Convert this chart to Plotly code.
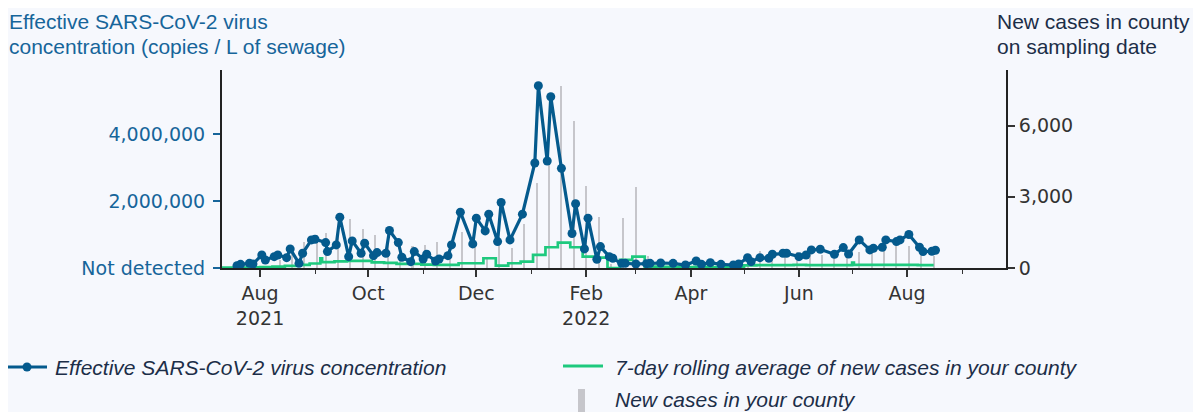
import plotly.graph_objects as go

# ---------------- data ----------------
virus_dates = [
    "2021-07-19", "2021-07-21", "2021-07-26", "2021-07-28", "2021-08-02", "2021-08-04",
    "2021-08-09", "2021-08-11", "2021-08-16", "2021-08-18", "2021-08-23", "2021-08-25",
    "2021-08-30", "2021-09-01", "2021-09-07", "2021-09-08", "2021-09-13", "2021-09-15",
    "2021-09-20", "2021-09-22", "2021-09-27", "2021-09-29", "2021-10-04", "2021-10-06",
    "2021-10-11", "2021-10-13", "2021-10-18", "2021-10-20", "2021-10-25", "2021-10-27",
    "2021-11-01", "2021-11-03", "2021-11-08", "2021-11-10", "2021-11-15", "2021-11-17",
    "2021-11-22", "2021-11-29", "2021-12-01", "2021-12-06", "2021-12-08", "2021-12-13",
    "2021-12-15", "2021-12-20", "2021-12-27", "2022-01-03", "2022-01-05", "2022-01-10",
    "2022-01-12", "2022-01-18", "2022-01-24", "2022-01-26", "2022-01-31", "2022-02-02",
    "2022-02-07", "2022-02-09", "2022-02-14", "2022-02-16", "2022-02-21", "2022-02-23",
    "2022-03-01", "2022-03-07", "2022-03-09", "2022-03-15", "2022-03-22", "2022-03-29",
    "2022-04-04", "2022-04-07", "2022-04-12", "2022-04-18", "2022-04-25", "2022-04-28",
    "2022-05-03", "2022-05-05", "2022-05-10", "2022-05-15", "2022-05-17", "2022-05-23",
    "2022-05-25", "2022-06-01", "2022-06-05", "2022-06-08", "2022-06-13", "2022-06-21",
    "2022-06-26", "2022-06-29", "2022-07-05", "2022-07-11", "2022-07-13", "2022-07-18",
    "2022-07-20", "2022-07-26", "2022-07-28", "2022-08-02", "2022-08-08", "2022-08-10",
    "2022-08-15", "2022-08-17",
]
virus_values = [
    70000, 110000, 140000, 120000, 390000, 240000,
    340000, 390000, 310000, 570000, 140000, 440000,
    840000, 860000, 760000, 490000, 690000, 1520000,
    340000, 810000, 440000, 740000, 370000, 460000,
    440000, 1120000, 760000, 320000, 190000, 490000,
    270000, 410000, 210000, 270000, 370000, 690000,
    1670000, 720000, 1490000, 1110000, 1610000, 790000,
    1960000, 840000, 1610000, 3140000, 5450000, 3200000,
    5120000, 2980000, 1030000, 1920000, 570000, 1490000,
    260000, 640000, 340000, 290000, 140000, 140000,
    120000, 130000, 140000, 150000, 140000, 90000,
    210000, 110000, 160000, 110000, 90000, 120000,
    310000, 190000, 310000, 290000, 410000, 440000,
    440000, 340000, 390000, 540000, 560000, 410000,
    610000, 420000, 840000, 540000, 590000, 620000,
    840000, 790000, 840000, 1000000, 620000, 490000,
    500000, 530000,
]

case_dates = [
    "2021-08-12", "2021-08-19", "2021-08-26", "2021-09-02", "2021-09-07", "2021-09-14",
    "2021-09-21", "2021-09-28", "2021-10-05", "2021-10-12", "2021-10-19", "2021-10-26",
    "2021-11-02", "2021-11-09", "2021-11-16", "2021-11-23", "2021-11-30", "2021-12-07",
    "2021-12-14", "2021-12-21", "2021-12-28", "2022-01-04", "2022-01-11", "2022-01-18",
    "2022-01-25", "2022-02-01", "2022-02-08", "2022-02-15", "2022-02-22", "2022-03-01",
    "2022-03-08", "2022-03-15", "2022-03-22", "2022-03-29", "2022-04-05", "2022-04-12",
    "2022-04-19", "2022-04-26", "2022-05-03", "2022-05-10", "2022-05-17", "2022-05-24",
    "2022-05-31", "2022-06-07", "2022-06-14", "2022-06-21", "2022-06-28", "2022-07-05",
    "2022-07-12", "2022-07-19", "2022-07-26", "2022-08-02", "2022-08-09", "2022-08-16",
]
case_values = [
    340, 620, 1110, 1400, 1480, 1700,
    2050, 1630, 1390, 1300, 1040, 930,
    970, 1110, 1110, 1530, 1110, 480,
    970, 850, 1860, 3580, 4400, 7660,
    6180, 3460, 2170, 150, 2100, 3410,
    510, 200, 150, 200, 200, 150,
    200, 250, 450, 720, 550, 550,
    690, 600, 550, 500, 620, 690,
    700, 900, 970, 930, 530, 520,
]

avg_dates = [
    "2021-07-10", "2021-07-18", "2021-07-25", "2021-08-01", "2021-08-08", "2021-08-15",
    "2021-08-22", "2021-08-29", "2021-09-04", "2021-09-05", "2021-09-12", "2021-09-19",
    "2021-09-26", "2021-10-03", "2021-10-10", "2021-10-17", "2021-10-24", "2021-10-31",
    "2021-11-07", "2021-11-14", "2021-11-21", "2021-11-28", "2021-12-05", "2021-12-12",
    "2021-12-19", "2021-12-26", "2022-01-02", "2022-01-09", "2022-01-16", "2022-01-23",
    "2022-01-30", "2022-02-06", "2022-02-13", "2022-02-20", "2022-02-27", "2022-03-06",
    "2022-03-13", "2022-03-20", "2022-03-27", "2022-04-03", "2022-04-10", "2022-04-17",
    "2022-04-24", "2022-05-01", "2022-05-08", "2022-05-15", "2022-05-22", "2022-05-29",
    "2022-06-05", "2022-06-12", "2022-06-19", "2022-06-26", "2022-07-01", "2022-07-02",
    "2022-07-10", "2022-07-17", "2022-07-24", "2022-07-31", "2022-08-07", "2022-08-16",
]
avg_values = [
    20, 20, 30, 40, 60, 90,
    130, 190, 410, 250, 280, 300,
    300, 240, 220, 170, 170, 140,
    130, 130, 200, 200, 410, 100,
    200, 270, 550, 875, 1070, 875,
    480, 435, 0, 340, 480, 60,
    50, 50, 40, 50, 40, 40,
    50, 110, 120, 120, 120, 130,
    120, 120, 120, 120, 230, 130,
    130, 130, 130, 130, 120, 120,
]

x_major_ticks = ["2021-08-01", "2021-10-01", "2021-12-01", "2022-02-01",
                 "2022-04-01", "2022-06-01", "2022-08-01"]
x_major_labels = ["Aug<br>2021", "Oct", "Dec", "Feb<br>2022", "Apr", "Jun", "Aug"]
x_minor_ticks = ["2021-09-01", "2021-11-01", "2022-01-01", "2022-03-01",
                 "2022-05-01", "2022-07-01", "2022-09-01"]
virus_ticks = [0, 2000000, 4000000]
virus_tick_labels = ["Not detected", "2,000,000", "4,000,000"]
case_ticks = [0, 3000, 6000]
case_tick_labels = ["0", "3,000", "6,000"]

# ---------------- style ----------------
BG = "#f6f8fd"
BLUE = "#045a8d"
BLUE_TXT = "#16659a"
GREEN = "#1ec97e"
GRAY = "#c6c6cb"
NAVY = "#1c2e48"
DARK = "#333333"
AXIS = "#222222"
TICKFONT = "DejaVu Sans"
TXTFONT = "Liberation Sans, Arial, sans-serif"

# the page body adds an 8px offset, so the figure is 8px smaller than the window
OFF = 8
W, H = 1201 - OFF, 412 - OFF
# plot area in window pixels
L, R, T, B = 222, 1006, 70, 268


def px(xp):
    return (xp - L) / (R - L)


def py(yp):
    return (B - yp) / (B - T)


fig = go.Figure()
fig.add_trace(go.Bar(
    x=case_dates, y=case_values, yaxis="y",
    width=1.15 * 86400000, marker=dict(color=GRAY, line=dict(width=0)),
    name="New cases in your county", showlegend=False,
))
fig.add_trace(go.Scatter(
    x=avg_dates, y=avg_values, yaxis="y", mode="lines",
    line=dict(color=GREEN, width=2.7, shape="hv"),
    name="7-day rolling average of new cases in your county", showlegend=False,
))
fig.add_trace(go.Scatter(
    x=virus_dates, y=virus_values, yaxis="y2", mode="lines+markers",
    line=dict(color=BLUE, width=3.2), marker=dict(size=9, color=BLUE),
    name="Effective SARS-CoV-2 virus concentration", showlegend=False,
))

annotations = []
shapes = []


def text(xp, yp, s, color, italic=False, size=21):
    annotations.append(dict(
        x=px(xp), y=py(yp), xref="paper", yref="paper", text=s, showarrow=False,
        xanchor="left", yanchor="middle",
        font=dict(family=TXTFONT, size=size, color=color,
                  style="italic" if italic else "normal"),
    ))


# axis titles
text(7, 21, "Effective SARS-CoV-2 virus", BLUE_TXT)
text(7, 46, "concentration (copies / L of sewage)", BLUE_TXT)
text(995, 21, "New cases in county", NAVY)
text(995, 46, "on sampling date", NAVY)

# manual legend
shapes.append(dict(type="line", xref="paper", yref="paper",
                   x0=px(7), x1=px(47), y0=py(367), y1=py(367),
                   line=dict(color=BLUE, width=3)))
shapes.append(dict(type="circle", xref="paper", yref="paper",
                   x0=px(22.5), x1=px(31.5), y0=py(371.5), y1=py(362.5),
                   fillcolor=BLUE, line=dict(color=BLUE, width=0)))
text(53, 367, "Effective SARS-CoV-2 virus concentration", NAVY, italic=True)
shapes.append(dict(type="line", xref="paper", yref="paper",
                   x0=px(563), x1=px(603), y0=py(366), y1=py(366),
                   line=dict(color=GREEN, width=3)))
text(613, 367, "7-day rolling average of new cases in your county", NAVY, italic=True)
shapes.append(dict(type="rect", xref="paper", yref="paper",
                   x0=px(578), x1=px(585), y0=py(389), y1=py(412),
                   fillcolor=GRAY, line=dict(width=0)))
text(613, 400, "New cases in your county", NAVY, italic=True)

fig.update_layout(
    width=W, height=H,
    margin=dict(l=L - OFF, r=W - (R - OFF), t=T - OFF, b=H - (B - OFF), pad=0),
    paper_bgcolor=BG, plot_bgcolor=BG,
    showlegend=False,
    bargap=0,
    annotations=annotations,
    shapes=shapes,
    xaxis=dict(
        type="date",
        range=["2021-07-10 13:00", "2022-09-25 19:00"],
        showgrid=False, zeroline=False,
        showline=True, linecolor=AXIS, linewidth=2,
        ticks="outside", ticklen=7, tickwidth=1.6, tickcolor=DARK,
        tickmode="array", tickvals=x_major_ticks, ticktext=x_major_labels,
        tickfont=dict(family=TICKFONT, size=19, color=DARK),
        minor=dict(tickmode="array", tickvals=x_minor_ticks, ticks="outside",
                   ticklen=4, tickwidth=1.3, tickcolor=DARK, showgrid=False),
    ),
    yaxis=dict(
        side="right", range=[0, 8343],
        showgrid=False, zeroline=False,
        showline=True, linecolor=AXIS, linewidth=2,
        ticks="outside", ticklen=7, tickwidth=1.6, tickcolor=DARK,
        tickmode="array", tickvals=case_ticks, ticktext=case_tick_labels,
        tickfont=dict(family=TICKFONT, size=19, color=DARK),
    ),
    yaxis2=dict(
        overlaying="y", side="left", range=[0, 5920000],
        showgrid=False, zeroline=False,
        showline=True, linecolor=AXIS, linewidth=2,
        ticks="outside", ticklen=7, tickwidth=1.6, tickcolor=BLUE_TXT,
        ticklabelstandoff=4,
        tickmode="array", tickvals=virus_ticks, ticktext=virus_tick_labels,
        tickfont=dict(family=TICKFONT, size=19, color=BLUE_TXT),
    ),
)

fig.write_html("out.html")
